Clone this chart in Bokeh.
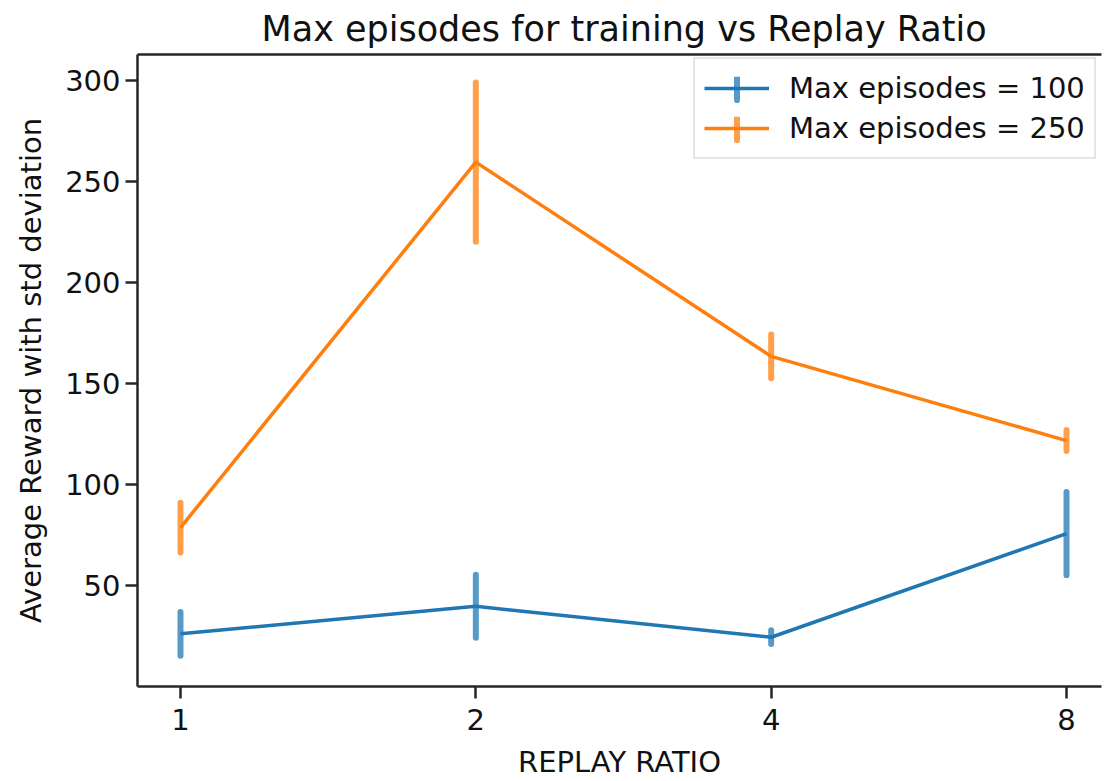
from bokeh.plotting import figure
from bokeh.models import Range1d, FixedTicker, LinearAxis, Legend, LegendItem, ColumnDataSource
from bokeh.embed import file_html
from bokeh.resources import INLINE

# ---- data ----
categories = ["1", "2", "4", "8"]
mean_100 = [25.9, 39.5, 24.2, 75.5]
std_100 = [10.8, 15.6, 3.4, 20.6]
mean_250 = [78.5, 259.5, 163.3, 121.6]
std_250 = [12.3, 39.4, 10.8, 5.2]
y_ticks = [50, 100, 150, 200, 250, 300]
series_labels = ["Max episodes = 100", "Max episodes = 250"]
series_colors = ["#1f77b4", "#ff7f0e"]

FONT = "DejaVu Sans"
TXT = "#111111"
SPINE = "#262626"

xpos = list(range(len(categories)))

p = figure(width=1104, height=781, output_backend="svg", toolbar_location=None,
           x_range=Range1d(-0.1456, 3.1185), y_range=Range1d(-0.2, 312.8),
           min_border_left=137, min_border_right=3, min_border_top=53, min_border_bottom=92,
           title="Max episodes for training vs Replay Ratio")
p.outline_line_color = None
p.xgrid.visible = False
p.ygrid.visible = False
p.background_fill_color = "white"
p.border_fill_color = "white"

p.title.text_font = FONT
p.title.text_font_size = "35px"
p.title.text_font_style = "normal"
p.title.text_color = TXT
p.title.align = "left"
p.title.offset = 124
p.title.standoff = 12

for ax in (p.xaxis[0], p.yaxis[0]):
    ax.axis_line_color = SPINE
    ax.axis_line_width = 2.5
    ax.major_tick_line_color = SPINE
    ax.major_tick_line_width = 2.5
    ax.major_tick_in = 0
    ax.major_tick_out = 12
    ax.minor_tick_line_color = None
    ax.major_label_text_font = FONT
    ax.major_label_text_font_size = "29px"
    ax.major_label_text_color = TXT
    ax.axis_label_text_font = FONT
    ax.axis_label_text_font_size = "29px"
    ax.axis_label_text_font_style = "normal"
    ax.axis_label_text_color = TXT

p.xaxis.ticker = FixedTicker(ticks=xpos)
p.xaxis.major_label_overrides = {i: c for i, c in zip(xpos, categories)}
p.xaxis.major_label_standoff = 10
p.xaxis.axis_label = "REPLAY RATIO"
p.xaxis.axis_label_standoff = 12
p.yaxis.ticker = FixedTicker(ticks=y_ticks)
p.yaxis.axis_label = "Average Reward with std deviation"
p.yaxis.axis_label_standoff = 14

top = LinearAxis(ticker=FixedTicker(ticks=[]), major_tick_out=0, major_tick_in=0,
                 minor_tick_line_color=None, major_label_text_font_size="0px",
                 major_label_standoff=0, axis_line_color=SPINE, axis_line_width=2.5)
p.add_layout(top, "above")

items = []
for mean, std, color, lab in zip([mean_100, mean_250], [std_100, std_250],
                                  series_colors, series_labels):
    src = ColumnDataSource(dict(x=xpos, y=mean, h=[2 * s for s in std]))
    er = p.ellipse(x="x", y="y", width=0.01, width_units="screen", height="h",
                   source=src, fill_color=None, line_color=color, line_alpha=0.75,
                   line_width=6)
    ln = p.line(x="x", y="y", source=src, line_color=color, line_width=3.5)
    items.append(LegendItem(label=lab, renderers=[ln, er]))

legend = Legend(items=items, location=(556, 527), glyph_width=65, glyph_height=30,
                label_height=40, spacing=0, padding=9, label_standoff=20,
                label_text_font=FONT, label_text_font_size="29px", label_text_color=TXT,
                border_line_color="#cccccc", border_line_width=2.5,
                background_fill_alpha=0.8, margin=0)
p.add_layout(legend)

open("out.html", "w").write(file_html(p, INLINE))
